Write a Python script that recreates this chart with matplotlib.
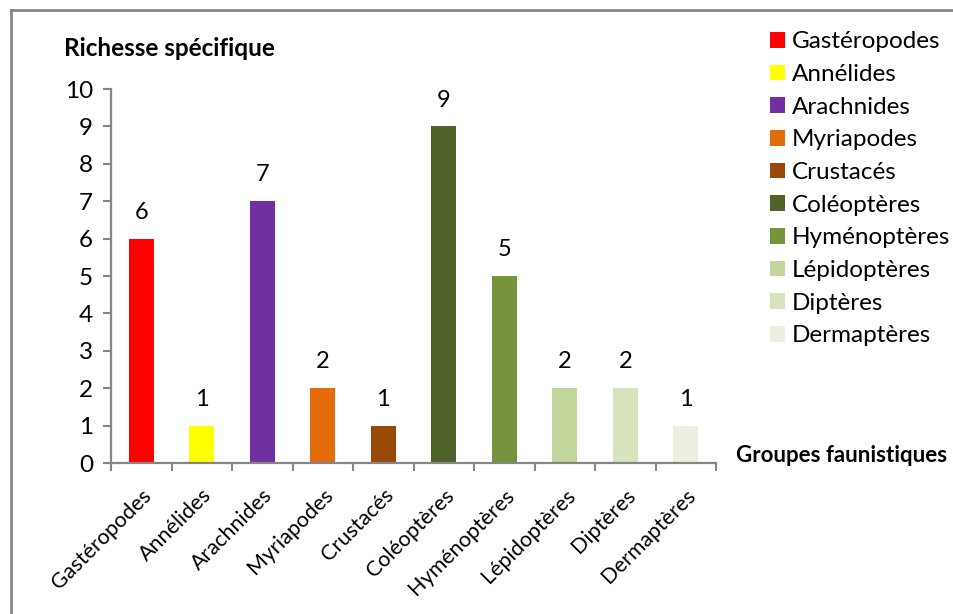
import matplotlib.pyplot as plt
from matplotlib.patches import Patch
from matplotlib.lines import Line2D

groupes = ["Gastéropodes", "Annélides", "Arachnides", "Myriapodes", "Crustacés",
           "Coléoptères", "Hyménoptères", "Lépidoptères", "Diptères", "Dermaptères"]
richesse = [6, 1, 7, 2, 1, 9, 5, 2, 2, 1]
couleurs = ["#FF0000", "#FFFF00", "#7030A0", "#E46C0A", "#984807",
            "#4F6228", "#77933C", "#C3D69B", "#D7E4BD", "#EBF1DE"]

plt.rcParams['font.family'] = ['Lato', 'DejaVu Sans']
gris = "#868686"

fig = plt.figure(figsize=(9.54, 6.14), dpi=100)
ax = fig.add_axes([0.1164, 0.2459, 0.6342, 0.609])

x = list(range(len(groupes)))
ax.bar(x, richesse, width=0.41, color=couleurs)

# valeur au-dessus de chaque barre
for xi, v in zip(x, richesse):
    ax.annotate(str(v), (xi, v), xytext=(0, 19), textcoords="offset points",
                ha="center", va="center", fontsize=17)

ax.set_xlim(-0.5, len(groupes) - 0.5)
ax.set_ylim(0, 10)
ax.set_yticks(range(0, 11))
ax.set_xticks([i - 0.5 for i in range(len(groupes) + 1)], minor=False)
ax.set_xticklabels([])
ax.set_xticks(x, minor=True)
ax.set_xticklabels(groupes, minor=True, rotation=45, ha="right",
                   rotation_mode="anchor", fontsize=15.5)
ax.tick_params(axis="x", which="minor", length=0, pad=16)
ax.tick_params(axis="x", which="major", length=6, width=1.5, color=gris)
ax.tick_params(axis="y", length=6, width=1.5, color=gris, labelsize=17.5, pad=7)

for s in ["top", "right"]:
    ax.spines[s].set_visible(False)
for s in ["left", "bottom"]:
    ax.spines[s].set_color(gris)
    ax.spines[s].set_linewidth(1.6)

fig.text(64 / 954, 1 - 48 / 614, "Richesse spécifique", fontsize=17.5,
         fontweight="bold", ha="left", va="center")
fig.text(736 / 954, 1 - 455 / 614, "Groupes faunistiques", fontsize=16,
         fontweight="bold", ha="left", va="center")

handles = [Patch(facecolor=c, edgecolor="none") for c in couleurs]
fig.legend(handles, groupes, loc="upper left", bbox_to_anchor=(0.807, 0.949),
           frameon=False, fontsize=17.5, handlelength=0.62, handleheight=0.62,
           handletextpad=0.3, labelspacing=0.48, borderpad=0, borderaxespad=0)

# cadre gris en haut et à gauche
fig.add_artist(Line2D([11.5 / 954, 11.5 / 954], [0, 1 - 10 / 614],
                      transform=fig.transFigure, color=gris, lw=2))
fig.add_artist(Line2D([11.5 / 954, 1], [1 - 10 / 614, 1 - 10 / 614],
                      transform=fig.transFigure, color=gris, lw=2))

fig.savefig("out.png", dpi=100, facecolor="white")
